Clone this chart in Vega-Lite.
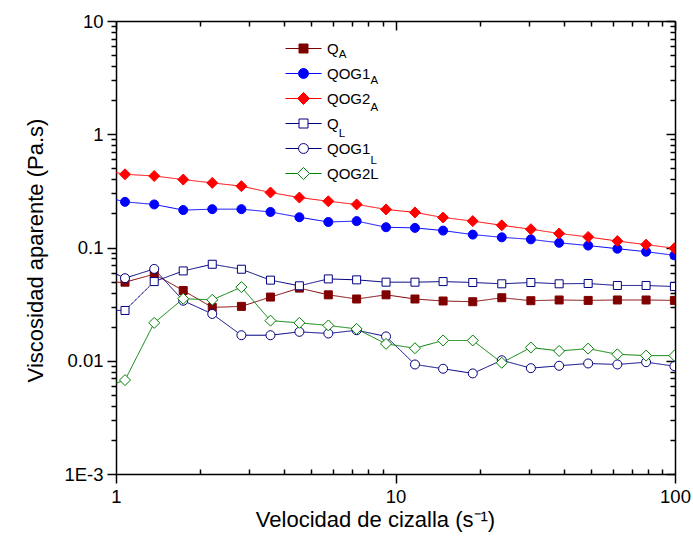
{
  "$schema": "https://vega.github.io/schema/vega-lite/v6.json",
  "width": 559,
  "height": 453,
  "autosize": {"type": "none"},
  "padding": {"left": 116, "top": 21, "right": 18, "bottom": 72},
  "background": "white",
  "datasets": {
    "d": [
      {"series": "QA", "x": 0.85, "y": 0.049},
      {"series": "QA", "x": 1.077, "y": 0.0494},
      {"series": "QA", "x": 1.37, "y": 0.0581},
      {"series": "QA", "x": 1.74, "y": 0.0417},
      {"series": "QA", "x": 2.21, "y": 0.0296},
      {"series": "QA", "x": 2.81, "y": 0.0302},
      {"series": "QA", "x": 3.57, "y": 0.0365},
      {"series": "QA", "x": 4.53, "y": 0.0438},
      {"series": "QA", "x": 5.75, "y": 0.0382},
      {"series": "QA", "x": 7.26, "y": 0.0351},
      {"series": "QA", "x": 9.25, "y": 0.0382},
      {"series": "QA", "x": 11.74, "y": 0.0351},
      {"series": "QA", "x": 14.8, "y": 0.0337},
      {"series": "QA", "x": 18.9, "y": 0.0332},
      {"series": "QA", "x": 24.0, "y": 0.036},
      {"series": "QA", "x": 30.5, "y": 0.0339},
      {"series": "QA", "x": 38.5, "y": 0.0344},
      {"series": "QA", "x": 48.9, "y": 0.0341},
      {"series": "QA", "x": 62.2, "y": 0.0344},
      {"series": "QA", "x": 78.8, "y": 0.0344},
      {"series": "QA", "x": 99.5, "y": 0.0341},

      {"series": "QOG1A", "x": 0.85, "y": 0.292},
      {"series": "QOG1A", "x": 1.077, "y": 0.253},
      {"series": "QOG1A", "x": 1.37, "y": 0.24},
      {"series": "QOG1A", "x": 1.74, "y": 0.214},
      {"series": "QOG1A", "x": 2.21, "y": 0.218},
      {"series": "QOG1A", "x": 2.81, "y": 0.218},
      {"series": "QOG1A", "x": 3.57, "y": 0.206},
      {"series": "QOG1A", "x": 4.53, "y": 0.185},
      {"series": "QOG1A", "x": 5.75, "y": 0.168},
      {"series": "QOG1A", "x": 7.26, "y": 0.171},
      {"series": "QOG1A", "x": 9.25, "y": 0.151},
      {"series": "QOG1A", "x": 11.74, "y": 0.149},
      {"series": "QOG1A", "x": 14.8, "y": 0.141},
      {"series": "QOG1A", "x": 18.9, "y": 0.13},
      {"series": "QOG1A", "x": 24.0, "y": 0.123},
      {"series": "QOG1A", "x": 30.5, "y": 0.118},
      {"series": "QOG1A", "x": 38.5, "y": 0.11},
      {"series": "QOG1A", "x": 48.9, "y": 0.104},
      {"series": "QOG1A", "x": 62.2, "y": 0.0976},
      {"series": "QOG1A", "x": 78.8, "y": 0.0918},
      {"series": "QOG1A", "x": 99.5, "y": 0.0853},

      {"series": "QOG2A", "x": 0.85, "y": 0.496},
      {"series": "QOG2A", "x": 1.077, "y": 0.443},
      {"series": "QOG2A", "x": 1.37, "y": 0.428},
      {"series": "QOG2A", "x": 1.74, "y": 0.398},
      {"series": "QOG2A", "x": 2.21, "y": 0.372},
      {"series": "QOG2A", "x": 2.81, "y": 0.348},
      {"series": "QOG2A", "x": 3.57, "y": 0.306},
      {"series": "QOG2A", "x": 4.53, "y": 0.276},
      {"series": "QOG2A", "x": 5.75, "y": 0.256},
      {"series": "QOG2A", "x": 7.26, "y": 0.24},
      {"series": "QOG2A", "x": 9.25, "y": 0.217},
      {"series": "QOG2A", "x": 11.74, "y": 0.204},
      {"series": "QOG2A", "x": 14.8, "y": 0.184},
      {"series": "QOG2A", "x": 18.9, "y": 0.171},
      {"series": "QOG2A", "x": 24.0, "y": 0.157},
      {"series": "QOG2A", "x": 30.5, "y": 0.145},
      {"series": "QOG2A", "x": 38.5, "y": 0.133},
      {"series": "QOG2A", "x": 48.9, "y": 0.124},
      {"series": "QOG2A", "x": 62.2, "y": 0.114},
      {"series": "QOG2A", "x": 78.8, "y": 0.106},
      {"series": "QOG2A", "x": 99.5, "y": 0.0985},

      {"series": "QL", "x": 0.85, "y": 0.028},
      {"series": "QL", "x": 1.077, "y": 0.0278},
      {"series": "QL", "x": 1.37, "y": 0.05},
      {"series": "QL", "x": 1.74, "y": 0.0621},
      {"series": "QL", "x": 2.21, "y": 0.0711},
      {"series": "QL", "x": 2.81, "y": 0.0643},
      {"series": "QL", "x": 3.57, "y": 0.0515},
      {"series": "QL", "x": 4.53, "y": 0.0459},
      {"series": "QL", "x": 5.75, "y": 0.0528},
      {"series": "QL", "x": 7.26, "y": 0.0518},
      {"series": "QL", "x": 9.25, "y": 0.0494},
      {"series": "QL", "x": 11.74, "y": 0.0494},
      {"series": "QL", "x": 14.8, "y": 0.05},
      {"series": "QL", "x": 18.9, "y": 0.0491},
      {"series": "QL", "x": 24.0, "y": 0.0478},
      {"series": "QL", "x": 30.5, "y": 0.0491},
      {"series": "QL", "x": 38.5, "y": 0.0478},
      {"series": "QL", "x": 48.9, "y": 0.0481},
      {"series": "QL", "x": 62.2, "y": 0.0462},
      {"series": "QL", "x": 78.8, "y": 0.0462},
      {"series": "QL", "x": 99.5, "y": 0.0452},

      {"series": "QOG1L", "x": 0.85, "y": 0.0705},
      {"series": "QOG1L", "x": 1.077, "y": 0.0536},
      {"series": "QOG1L", "x": 1.37, "y": 0.0647},
      {"series": "QOG1L", "x": 1.74, "y": 0.0339},
      {"series": "QOG1L", "x": 2.21, "y": 0.0259},
      {"series": "QOG1L", "x": 2.81, "y": 0.0168},
      {"series": "QOG1L", "x": 3.57, "y": 0.0168},
      {"series": "QOG1L", "x": 4.53, "y": 0.018},
      {"series": "QOG1L", "x": 5.75, "y": 0.0174},
      {"series": "QOG1L", "x": 7.26, "y": 0.0186},
      {"series": "QOG1L", "x": 9.25, "y": 0.0164},
      {"series": "QOG1L", "x": 11.74, "y": 0.00927},
      {"series": "QOG1L", "x": 14.8, "y": 0.0085},
      {"series": "QOG1L", "x": 18.9, "y": 0.00773},
      {"series": "QOG1L", "x": 24.0, "y": 0.0101},
      {"series": "QOG1L", "x": 30.5, "y": 0.0086},
      {"series": "QOG1L", "x": 38.5, "y": 0.00903},
      {"series": "QOG1L", "x": 48.9, "y": 0.00946},
      {"series": "QOG1L", "x": 62.2, "y": 0.00927},
      {"series": "QOG1L", "x": 78.8, "y": 0.00971},
      {"series": "QOG1L", "x": 99.5, "y": 0.00896},

      {"series": "QOG2L", "x": 0.85, "y": 0.0055},
      {"series": "QOG2L", "x": 1.077, "y": 0.00675},
      {"series": "QOG2L", "x": 1.37, "y": 0.0216},
      {"series": "QOG2L", "x": 1.74, "y": 0.0353},
      {"series": "QOG2L", "x": 2.21, "y": 0.0345},
      {"series": "QOG2L", "x": 2.81, "y": 0.0447},
      {"series": "QOG2L", "x": 3.57, "y": 0.0226},
      {"series": "QOG2L", "x": 4.53, "y": 0.0216},
      {"series": "QOG2L", "x": 5.75, "y": 0.0205},
      {"series": "QOG2L", "x": 7.26, "y": 0.0191},
      {"series": "QOG2L", "x": 9.25, "y": 0.0141},
      {"series": "QOG2L", "x": 11.74, "y": 0.0129},
      {"series": "QOG2L", "x": 14.8, "y": 0.0151},
      {"series": "QOG2L", "x": 18.9, "y": 0.0151},
      {"series": "QOG2L", "x": 24.0, "y": 0.00959},
      {"series": "QOG2L", "x": 30.5, "y": 0.0131},
      {"series": "QOG2L", "x": 38.5, "y": 0.0122},
      {"series": "QOG2L", "x": 48.9, "y": 0.0128},
      {"series": "QOG2L", "x": 62.2, "y": 0.0114},
      {"series": "QOG2L", "x": 78.8, "y": 0.0111},
      {"series": "QOG2L", "x": 99.5, "y": 0.0111}
    ]
  },
  "data": {"name": "d"},
  "layer": [
    {
      "mark": {"type": "line", "clip": true, "strokeWidth": 1},
      "encoding": {
        "x": {
          "field": "x", "type": "quantitative",
          "scale": {"type": "log", "domain": [1, 100], "nice": false},
          "axis": {
            "orient": "bottom",
            "values": [1, 2, 3, 4, 5, 6, 7, 8, 9, 10, 20, 30, 40, 50, 60, 70, 80, 90, 100],
            "tickSize": {"condition": {"test": "indexof([1,10,100], datum.value) >= 0", "value": 9}, "value": -5},
            "labelExpr": "datum.value == 1 ? '1' : datum.value == 10 ? '10' : datum.value == 100 ? '100' : ''",
            "labelOverlap": false,
            "labelFlush": false,
            "labelPadding": 4,
            "title": "Velocidad de cizalla (s⁻¹)",
            "titleX": 259,
            "titleY": 35,
            "titleAlign": "center",
            "titleBaseline": "top"
          }
        },
        "y": {
          "field": "y", "type": "quantitative",
          "scale": {"type": "log", "domain": [0.001, 10], "nice": false},
          "axis": {
            "orient": "left",
            "values": [0.001, 0.002, 0.003, 0.004, 0.005, 0.006, 0.007, 0.008, 0.009, 0.01, 0.02, 0.03, 0.04, 0.05, 0.06, 0.07, 0.08, 0.09, 0.1, 0.2, 0.3, 0.4, 0.5, 0.6, 0.7, 0.8, 0.9, 1, 2, 3, 4, 5, 6, 7, 8, 9, 10],
            "tickSize": {"condition": {"test": "indexof([0.001,0.01,0.1,1,10], datum.value) >= 0", "value": 9}, "value": 5},
            "labelExpr": "datum.value == 10 ? '10' : datum.value == 1 ? '1' : datum.value == 0.1 ? '0.1' : datum.value == 0.01 ? '0.01' : datum.value == 0.001 ? '1E-3' : ''",
            "labelOverlap": false,
            "labelFlush": false,
            "labelPadding": 4,
            "title": "Viscosidad aparente (Pa.s)",
            "titleX": -81,
            "titleY": 229,
            "titleAlign": "center",
            "titleBaseline": "middle",
            "titleAngle": -90
          }
        },
        "color": {
          "field": "series", "type": "nominal",
          "scale": {
            "domain": ["QA", "QOG1A", "QOG2A", "QL", "QOG1L", "QOG2L"],
            "range": ["#800000", "#0000ff", "#ff0000", "#000080", "#000080", "#008000"]
          },
          "legend": {
            "orient": "none", "legendX": 178, "legendY": 18, "direction": "vertical",
            "title": null, "padding": 0,
            "symbolSize": 324, "symbolStrokeWidth": 1, "symbolOpacity": 1,
            "labelFontSize": 15, "labelColor": "black", "labelOffset": 14, "rowPadding": 7,
            "labelExpr": "datum.value == 'QA' || datum.value == 'QL' ? 'Q' : datum.value == 'QOG1A' || datum.value == 'QOG1L' ? 'QOG1' : datum.value == 'QOG2A' ? 'QOG2' : 'QOG2L'",
            "encode": {
              "symbols": {
                "update": {
                  "shape": {"signal": "datum.value == 'QA' || datum.value == 'QL' ? 'M-2,0H-0.5M0.5,0H2M-0.5,-0.5H0.5V0.5H-0.5Z' : (datum.value == 'QOG1A' || datum.value == 'QOG1L') ? 'M-2,0H-0.55M0.55,0H2M-0.55,0A0.55,0.55 0 1,0 0.55,0A0.55,0.55 0 1,0 -0.55,0Z' : 'M-2,0H-0.67M0.67,0H2M-0.67,0L0,-0.67L0.67,0L0,0.67Z'"},
                  "fill": {"signal": "datum.value == 'QA' ? '#800000' : datum.value == 'QOG1A' ? '#0000ff' : datum.value == 'QOG2A' ? '#ff0000' : '#ffffff'"},
                  "strokeWidth": {"value": 1}
                }
              }
            }
          }
        },
        "strokeDash": {
          "field": "series", "type": "nominal",
          "sort": ["QA", "QOG1A", "QOG2A", "QL", "QOG1L", "QOG2L"],
          "scale": {"range": [[1, 0], [1, 0], [1, 0], [1, 0], [1, 0], [1, 0]]},
          "legend": {
            "orient": "none", "legendX": 178, "legendY": 18, "direction": "vertical",
            "title": null, "padding": 0,
            "symbolSize": 324, "symbolStrokeWidth": 1, "symbolOpacity": 0,
            "labelFontSize": 15, "labelColor": "black", "labelOffset": 14, "rowPadding": 5.5,
            "labelExpr": "datum.value == 'QOG2L' ? '' : (datum.value == 'QA' || datum.value == 'QOG1A' || datum.value == 'QOG2A') ? 'A' : 'L'",
            "encode": {
              "labels": {
                "update": {
                  "fontSize": {"value": 11.5},
                  "dx": {"signal": "datum.value == 'QA' || datum.value == 'QL' ? 11.7 : 43.4"},
                  "dy": {"value": 6}
                }
              }
            }
          }
        }
      }
    },
    {
      "mark": {"type": "point", "clip": true, "strokeWidth": 1, "opacity": 1},
      "encoding": {
        "x": {
          "field": "x", "type": "quantitative",
          "scale": {"type": "log", "domain": [1, 100], "nice": false},
          "axis": {
            "orient": "top",
            "values": [1, 2, 3, 4, 5, 6, 7, 8, 9, 10, 20, 30, 40, 50, 60, 70, 80, 90, 100],
            "tickSize": {"condition": {"test": "indexof([1,10,100], datum.value) >= 0", "value": -9}, "value": -5},
            "labels": false,
            "title": null
          }
        },
        "y": {
          "field": "y", "type": "quantitative",
          "scale": {"type": "log", "domain": [0.001, 10], "nice": false},
          "axis": {
            "orient": "right",
            "values": [0.001, 0.002, 0.003, 0.004, 0.005, 0.006, 0.007, 0.008, 0.009, 0.01, 0.02, 0.03, 0.04, 0.05, 0.06, 0.07, 0.08, 0.09, 0.1, 0.2, 0.3, 0.4, 0.5, 0.6, 0.7, 0.8, 0.9, 1, 2, 3, 4, 5, 6, 7, 8, 9, 10],
            "tickSize": {"condition": {"test": "indexof([0.001,0.01,0.1,1,10], datum.value) >= 0", "value": -9}, "value": -5},
            "labels": false,
            "title": null
          }
        },
        "shape": {
          "condition": [
            {"test": "datum.series == 'QA' || datum.series == 'QL'", "value": "square"},
            {"test": "datum.series == 'QOG1A' || datum.series == 'QOG1L'", "value": "circle"}
          ],
          "value": "diamond"
        },
        "fill": {
          "condition": [
            {"test": "datum.series == 'QA'", "value": "#800000"},
            {"test": "datum.series == 'QOG1A'", "value": "#0000ff"},
            {"test": "datum.series == 'QOG2A'", "value": "#ff0000"}
          ],
          "value": "#ffffff"
        },
        "stroke": {
          "condition": [
            {"test": "datum.series == 'QA'", "value": "#800000"},
            {"test": "datum.series == 'QOG1A'", "value": "#0000ff"},
            {"test": "datum.series == 'QOG2A'", "value": "#ff0000"},
            {"test": "datum.series == 'QOG2L'", "value": "#008000"}
          ],
          "value": "#000080"
        },
        "size": {
          "condition": [
            {"test": "datum.series == 'QA' || datum.series == 'QL'", "value": 64},
            {"test": "datum.series == 'QOG1A' || datum.series == 'QOG1L'", "value": 81}
          ],
          "value": 121
        }
      }
    }
  ],
  "resolve": {"axis": {"x": "independent", "y": "independent"}},
  "config": {
    "font": "Liberation Sans",
    "view": {"stroke": null},
    "axis": {
      "grid": false,
      "domainColor": "black",
      "domainWidth": 1.5,
      "tickColor": "black",
      "tickWidth": 1.5,
      "labelColor": "black",
      "labelFontSize": 18.5,
      "labelFont": "Liberation Sans",
      "titleColor": "black",
      "titleFontSize": 22,
      "titleFont": "Liberation Sans",
      "titleFontWeight": "normal"
    },
    "legend": {"labelFont": "Liberation Sans"}
  }
}
